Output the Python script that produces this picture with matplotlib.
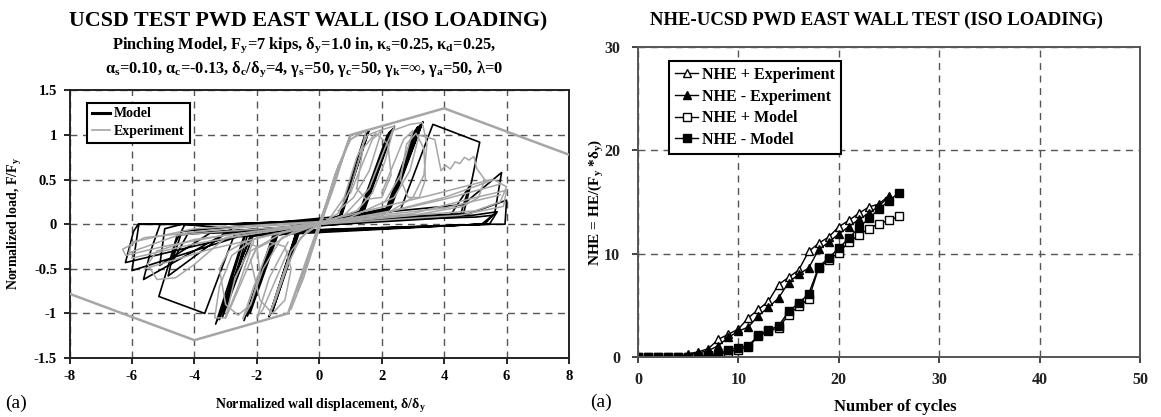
import matplotlib
matplotlib.use("Agg")
import matplotlib.pyplot as plt
from matplotlib.lines import Line2D

plt.rcParams['font.family'] = ['Liberation Serif', 'DejaVu Serif']
plt.rcParams['font.weight'] = 'bold'
plt.rcParams['mathtext.fontset'] = 'custom'
plt.rcParams['mathtext.rm'] = 'Liberation Serif:bold'
plt.rcParams['mathtext.bf'] = 'Liberation Serif:bold'
plt.rcParams['mathtext.it'] = 'Liberation Serif:bold'
plt.rcParams['mathtext.default'] = 'bf'

# ---- hysteresis: model path, one list per group of cycles ----
model_disp = [
    [0.00, 1.00, 1.60, 0.72, -0.70, -1.61, -0.75, 0.62, 1.45, 1.58, 0.70, -0.60, -1.52, -0.66, 0.55],
    [0.55, 1.35, 2.41, 1.45, -1.40, -2.41, -1.50, 1.30, 2.25, 2.36, 1.40, -1.35, -2.30, -1.45, 1.25,
     2.18, 2.30, 1.38, -1.30, -2.22, -1.40, 2.20],
    [2.20, 3.32, 2.30, -2.20, -3.32, -2.40, 2.15, 3.15, 3.25, 2.25, -2.20, -3.20, -2.35, 2.10, 3.05,
     3.15, 2.18, -2.10, -3.10, -2.28, 2.60],
    [2.60, 3.64, 5.14, 4.88, 4.62, -2.70, -3.67, -5.14, -4.85, -4.55, 4.20, 4.80, 4.50, -4.20, -4.75, -4.40],
    [-4.40, 4.60, 5.84, 5.62, 5.20, -2.50, -6.21, -5.95, -5.80, -3.00, 4.80, 6.00, 5.95, 5.10, -2.60,
     -6.00, -5.78, -3.20, 4.90, 5.70, 5.45, -3.00, -5.63, -5.40, -5.10, -3.00, 5.00, 5.55, 5.30, -3.50,
     -5.11, -4.95, -4.40, -2.80, -4.84, -4.60, -4.30],
]
model_load = [
    [0.00, 1.00, 1.06, 0.10, -0.06, -1.04, -0.10, 0.06, 0.99, 1.04, 0.10, -0.05, -1.00, -0.08, 0.06],
    [0.06, 0.14, 1.10, 0.16, -0.12, -1.08, -0.14, 0.11, 1.03, 1.07, 0.14, -0.10, -1.03, -0.12, 0.10,
     1.00, 1.05, 0.13, -0.09, -1.00, -0.11, 0.14],
    [0.14, 1.15, 0.19, -0.14, -1.12, -0.12, 0.14, 1.08, 1.12, 0.17, -0.12, -1.07, -0.10, 0.13, 1.04,
     1.09, 0.16, -0.11, -1.04, -0.10, 0.16],
    [0.16, 1.12, 0.92, 0.48, 0.12, -0.10, -1.00, -0.81, -0.48, -0.12, 0.10, 0.42, 0.08, -0.10, -0.45, -0.08],
    [-0.08, 0.22, 0.58, 0.12, 0.00, -0.12, -0.43, -0.08, 0.00, 0.00, 0.12, 0.27, 0.00, 0.00, -0.14,
     -0.52, 0.00, 0.00, 0.10, 0.14, 0.00, -0.10, -0.62, -0.30, 0.00, 0.00, 0.08, 0.10, 0.00, -0.10,
     -0.46, -0.05, 0.00, -0.05, -0.58, -0.20, 0.00],
]

# ---- hysteresis: experiment traces ----
exp_disp = [
    [-0.5, -0.2, 0.0, 0.2, 0.5, 0.8, 0.5, 0.1, -0.3, -0.7, -0.4, 0.1, 0.6],
    [0.6, 1.0, 1.5, 1.3, 1.0, 0.6, 0.0, -0.6, -1.0, -1.4, -1.6, -1.3, -0.9, -0.4, 0.3, 0.8, 1.2, 1.55],
    [1.55, 2.0, 2.4, 2.1, 1.7, 1.2, 0.0, -1.2, -1.8, -2.2, -2.45, -2.1, -1.6, -0.8, 0.8, 1.6, 2.1, 2.35],
    [2.35, 2.9, 3.3, 3.45, 3.35, 3.0, 2.3, 0.0, -2.0, -2.8, -3.2, -3.35, -3.0, -2.6, -2.2, -1.2, 1.0,
     2.4, 2.9, 3.2],
    [-3.2, -3.0, -2.6, -2.2, -1.9, -2.0, -2.4, -2.9, -3.2],
    [-2.2, -1.9, -1.5, -1.1, -0.9, -1.1, -1.6, -2.0, -2.2],
    [2.6, 2.8, 3.1, 3.35, 3.4, 3.2, 2.85, 2.6],
    [1.2, 1.4, 1.8, 2.2, 2.3, 2.0, 1.5, 1.2],
    [3.2, 3.7, 3.9, 4.05, 4.2, 4.35, 4.5, 4.65, 4.8, 4.95, 5.05, 5.2, 5.3, 5.1, 4.6, 3.0, 0.0, -3.0,
     -4.0, -4.6, -5.2, -5.5, -5.2, -4.0, -2.0, 2.0, 4.0, 5.2],
    [5.2, 5.6, 6.0, 5.8, 5.0, 2.0, 0.0, -3.0, -5.0, -6.2, -6.3, -5.6, -3.0, 0.0, 3.0, 5.0, 6.0],
    [6.0, 5.9, 4.5, 0.0, -4.5, -6.1, -6.0, -4.0, 0.0, 4.0, 5.8],
    [-0.9, -0.5, 0.0, 0.5, 1.0, 1.3],
    [-6.0, -4.0, -2.0, 0.0, 2.0, 4.0, 5.8],
    [-5.6, -3.5, -1.5, 0.0, 1.5, 3.5, 5.5],
    [1.0, 1.7, 2.0, 1.6, 1.1, 0.6],
    [-1.0, -1.8, -2.0, -1.6, -1.0],
    [2.0, 2.7, 3.0, 2.6, 2.1],
    [-2.0, -2.8, -3.0, -2.7, -2.1],
]
exp_load = [
    [-0.55, -0.25, -0.05, 0.20, 0.55, 0.80, 0.45, 0.05, -0.30, -0.75, -0.45, 0.10, 0.65],
    [0.65, 0.95, 1.05, 0.75, 0.40, 0.12, 0.00, -0.15, -0.45, -0.85, -1.02, -0.70, -0.30, -0.08, 0.05,
     0.30, 0.75, 1.00],
    [1.00, 1.06, 1.10, 0.70, 0.35, 0.15, 0.00, -0.15, -0.50, -0.90, -1.06, -0.70, -0.25, -0.08, 0.10,
     0.40, 0.85, 1.05],
    [1.05, 1.12, 1.14, 0.90, 0.55, 0.30, 0.15, 0.00, -0.15, -0.35, -0.70, -1.05, -1.05, -0.70, -0.30,
     -0.10, 0.08, 0.30, 0.60, 1.00],
    [-0.50, -0.90, -1.02, -0.90, -0.55, -0.25, -0.20, -0.30, -0.50],
    [-0.40, -0.85, -1.00, -0.85, -0.50, -0.25, -0.20, -0.27, -0.40],
    [0.50, 0.90, 1.02, 0.85, 0.50, 0.30, 0.30, 0.50],
    [0.40, 0.85, 1.02, 0.90, 0.55, 0.30, 0.28, 0.40],
    [1.00, 0.95, 0.60, 0.66, 0.62, 0.70, 0.68, 0.75, 0.72, 0.76, 0.62, 0.55, 0.50, 0.30, 0.20, 0.10,
     0.00, -0.15, -0.45, -0.60, -0.62, -0.45, -0.30, -0.17, -0.08, 0.12, 0.30, 0.45],
    [0.45, 0.50, 0.42, 0.25, 0.15, 0.08, 0.00, -0.12, -0.25, -0.35, -0.28, -0.15, -0.05, 0.02, 0.12,
     0.30, 0.38],
    [0.38, 0.20, 0.10, 0.00, -0.12, -0.32, -0.20, -0.05, 0.03, 0.18, 0.33],
    [-0.95, -0.60, -0.05, 0.55, 0.95, 1.02],
    [-0.38, -0.22, -0.10, 0.00, 0.12, 0.28, 0.45],
    [-0.50, -0.28, -0.12, 0.02, 0.15, 0.32, 0.50],
    [0.35, 0.95, 1.05, 0.60, 0.30, 0.15],
    [-0.30, -0.95, -1.05, -0.60, -0.20],
    [0.35, 0.95, 1.05, 0.55, 0.25],
    [-0.25, -0.90, -1.05, -0.60, -0.20],
]

# backbone envelope
env_disp = [-8, -4, -1, 0, 1, 4, 8]
env_load = [-0.78, -1.30, -1.00, 0.0, 1.00, 1.30, 0.78]

# ---- normalized hysteretic energy vs cycles ----
cycles_exp = list(range(26))
cycles_model = list(range(27))
nhe_pos_exp = [0, 0, 0, 0, 0, 0.3, 0.5, 0.8, 1.7, 2.2, 2.7, 3.8, 4.6, 5.4, 7.0, 7.7, 8.4, 10.2, 11.0,
               11.6, 12.6, 13.2, 13.9, 14.5, 14.8, 15.6]
nhe_neg_exp = [0, 0, 0, 0, 0, 0.2, 0.4, 0.6, 1.1, 1.9, 2.5, 2.9, 4.0, 4.8, 5.7, 7.2, 8.0, 8.6, 10.4,
               11.1, 11.9, 12.6, 13.3, 13.9, 14.6, 15.5]
nhe_pos_model = [0, 0, 0, 0, 0, 0, 0, 0.1, 0.2, 0.5, 0.7, 1.0, 2.0, 2.5, 2.8, 4.1, 4.9, 5.6, 8.6, 9.4,
                 10.1, 11.1, 11.8, 12.4, 12.9, 13.2, 13.6]
nhe_neg_model = [0, 0, 0, 0, 0, 0, 0, 0.2, 0.3, 0.7, 0.9, 1.1, 2.1, 2.6, 3.0, 4.4, 5.2, 6.1, 8.7, 9.6,
                 10.5, 11.5, 12.5, 13.4, 14.3, 15.1, 15.9]

grey = '#a6a6a6'
grid_kw = dict(color='#555555', linestyle=(0, (5, 4)), linewidth=1.0)

fig = plt.figure(figsize=(11.61, 4.17), dpi=100)

# ---------------- left: load-displacement ----------------
ax1 = fig.add_axes([0.0599, 0.1415, 0.4302, 0.6415])
for d, l in zip(model_disp, model_load):
    ax1.plot(d, l, color='black', lw=1.2, zorder=3)
for d, l in zip(exp_disp, exp_load):
    ax1.plot(d, l, color=grey, lw=1.1, zorder=4)
ax1.plot(env_disp, env_load, color=grey, lw=1.8, zorder=4)

ax1.set_xlim(-8, 8)
ax1.set_ylim(-1.5, 1.5)
ax1.set_xticks(range(-8, 9, 2))
ax1.set_yticks([-1.5, -1, -0.5, 0, 0.5, 1, 1.5])
ax1.set_yticklabels(['-1.5', '-1', '-0.5', '0', '0.5', '1', '1.5'])
ax1.set_xticklabels([str(v) for v in range(-8, 9, 2)])
ax1.grid(True, **grid_kw)
ax1.tick_params(direction='out', length=4, width=1.2, labelsize=10.5, pad=5)
for s in ax1.spines.values():
    s.set_linewidth(1.4)
    s.set_color('#222222')

leg1 = ax1.legend(handles=[Line2D([], [], color='black', lw=2.2, label='Model'),
                           Line2D([], [], color=grey, lw=1.2, label='Experiment')],
                  loc='upper left', bbox_to_anchor=(0.035, 0.955), fancybox=False,
                  handlelength=1.3, handletextpad=0.3, borderpad=0.35, labelspacing=0.35,
                  borderaxespad=0, prop={'size': 10, 'weight': 'bold'})
leg1.get_frame().set_edgecolor('black')
leg1.get_frame().set_linewidth(1.5)
leg1.get_frame().set_alpha(1)

fig.text(0.265, 1 - 21 / 417, 'UCSD TEST PWD EAST WALL (ISO LOADING)', ha='center', va='center',
         fontsize=15.8)
fig.text(0.262, 1 - 45 / 417,
         r'Pinching Model, F$_y$=7 kips, δ$_y$=1.0 in, κ$_s$=0.25, κ$_d$=0.25,',
         ha='center', va='center', fontsize=11.8)
fig.text(0.262, 1 - 69 / 417,
         r'α$_s$=0.10, α$_c$=-0.13, δ$_c$/δ$_y$=4, γ$_s$=50, γ$_c$=50, γ$_k$=∞, γ$_a$=50, λ=0',
         ha='center', va='center', fontsize=11.8)
fig.text(15 / 1161, 1 - 224 / 417, r'Normalized load, F/F$_y$', rotation=90, ha='center',
         va='center', fontsize=10)
fig.text(320 / 1161, 1 - 406 / 417, r'Normalized wall displacement, δ/δ$_y$', ha='center',
         va='center', fontsize=10)
fig.text(5 / 1161, 1 - 403 / 417, '(a)', ha='left', va='center', fontsize=14, fontweight='normal')

# ---------------- right: NHE vs number of cycles ----------------
ax2 = fig.add_axes([0.5495, 0.1439, 0.4324, 0.7441])
mk = dict(color='black', lw=1.0, markersize=5.5, markeredgewidth=1.0, markeredgecolor='black')
ax2.plot(cycles_exp, nhe_pos_exp, marker='^', markerfacecolor='white', label='NHE + Experiment', **mk)
ax2.plot(cycles_exp, nhe_neg_exp, marker='^', markerfacecolor='black', label='NHE - Experiment', **mk)
ax2.plot(cycles_model, nhe_pos_model, marker='s', markerfacecolor='white', label='NHE + Model', **mk)
ax2.plot(cycles_model, nhe_neg_model, marker='s', markerfacecolor='black', label='NHE - Model', **mk)

ax2.set_xlim(0, 50)
ax2.set_ylim(0, 30)
ax2.set_xticks(range(0, 51, 10))
ax2.set_yticks(range(0, 31, 10))
ax2.grid(True, **grid_kw)
ax2.tick_params(direction='out', length=4, width=1.2, labelsize=11.5, colors='#222222')
ax2.tick_params(axis='y', pad=9)
ax2.tick_params(axis='x', pad=7)
for s in ax2.spines.values():
    s.set_linewidth(1.4)
    s.set_color('#555555')

leg2 = ax2.legend(loc='upper left', bbox_to_anchor=(0.062, 0.955), fancybox=False,
                  handlelength=1.4, handletextpad=0.25, borderpad=0.4, labelspacing=0.35,
                  borderaxespad=0, prop={'size': 11.5, 'weight': 'bold'})
leg2.get_frame().set_edgecolor('black')
leg2.get_frame().set_linewidth(1.5)
leg2.get_frame().set_alpha(1)

fig.text(876 / 1161, 1 - 20 / 417, 'NHE-UCSD PWD EAST WALL TEST (ISO LOADING)', ha='center',
         va='center', fontsize=13.5)
fig.text(596 / 1161, 1 - 202 / 417, r'NHE = HE/(F$_y$ *δ$_y$)', rotation=90, ha='center',
         va='center', fontsize=11)
fig.text(895 / 1161, 1 - 407 / 417, 'Number of cycles', ha='center', va='center', fontsize=12)
fig.text(590 / 1161, 1 - 402 / 417, '(a)', ha='left', va='center', fontsize=14, fontweight='normal')

fig.savefig('out.png', dpi=100)
